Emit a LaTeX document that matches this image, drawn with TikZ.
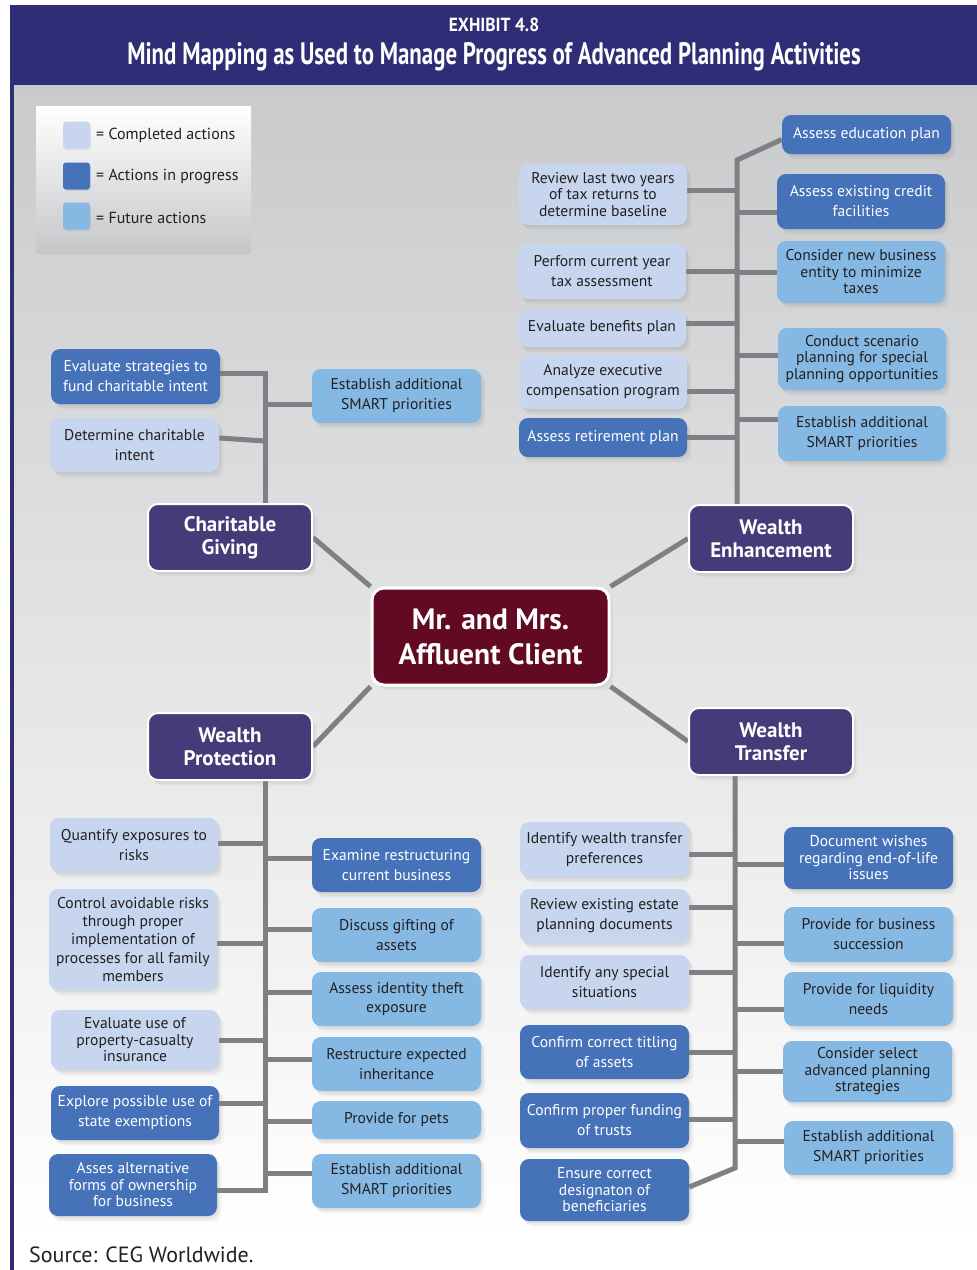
\documentclass[tikz,border=0pt]{standalone}
\usepackage{fontspec}
\setmainfont{PT Sans}
\usepackage{graphicx}
\usetikzlibrary{calc,shadows}

\definecolor{cDone}{HTML}{C7D5EE}
\definecolor{cProg}{HTML}{4672B9}
\definecolor{cFut}{HTML}{85B9E4}
\definecolor{cCat}{HTML}{453B79}
\definecolor{cMid}{HTML}{620A23}
\definecolor{cLine}{HTML}{7F8083}
\definecolor{cHead}{HTML}{2F2D76}
\definecolor{cInk}{HTML}{231F20}
\definecolor{cBgTop}{HTML}{C9CACC}
\definecolor{cBgMid}{HTML}{EFEFF0}
\definecolor{cLegBot}{HTML}{C6C7C9}

\pgfdeclarelayer{bg}
\pgfdeclarelayer{paper}
\pgfsetlayers{paper,bg,main}

\tikzset{
  soft/.style={
    drop shadow={shadow xshift=4.5pt, shadow yshift=-5.5pt, opacity=0.06},
    drop shadow={shadow xshift=3pt, shadow yshift=-4pt, opacity=0.08},
    drop shadow={shadow xshift=1.5pt, shadow yshift=-2pt, opacity=0.10}},
  item/.style={rounded corners=9pt, align=center, inner sep=2pt, soft,
    font=\fontsize{15.6}{16.5}\selectfont},
  loose/.style={font=\fontsize{15.6}{20}\selectfont},
  airy/.style={font=\fontsize{15.6}{18.3}\selectfont},
  done/.style={item, fill=cDone, text=cInk},
  prog/.style={item, fill=cProg, text=white},
  fut/.style={item, fill=cFut, text=cInk},
  sz/.style 2 args={minimum width=#1pt, minimum height=#2pt},
  cat/.style={rounded corners=10pt, fill=cCat, draw=white, line width=2pt,
    text=white, align=center, minimum width=164pt, minimum height=67pt, soft,
    font=\fontsize{21}{23}\selectfont\bfseries},
  hub/.style={rounded corners=12pt, fill=cMid, draw=white, line width=3pt,
    text=white, align=center, minimum width=237pt, minimum height=97pt, soft,
    font=\fontsize{29.5}{35}\selectfont\bfseries},
  conn/.style={draw=cLine, line width=5pt},
  swatch/.style={rounded corners=3pt, minimum size=27pt, inner sep=0pt,
    drop shadow={shadow xshift=1pt, shadow yshift=-1.5pt, opacity=0.15}},
  legtxt/.style={anchor=west, inner sep=0pt, text=cInk, font=\fontsize{16}{18}\selectfont},
}

% horizontal branch from a box side to a trunk
\newcommand\branchE[3]{\draw[conn] (#1.east) ++(0,#2) coordinate (tmp) -- (tmp -| #3);}
\newcommand\branchW[3]{\draw[conn] (#1.west) ++(0,#2) coordinate (tmp) -- (tmp -| #3);}

\begin{document}
\begin{tikzpicture}[x=1pt,y=-1pt]
\useasboundingbox (0,0) rectangle (977,1270);

\begin{pgfonlayer}{paper}
  \fill[white] (0,0) rectangle (977,1270);
  \shade[top color=cBgTop, middle color=cBgMid, bottom color=white] (13,85) rectangle (977,1240);
  \fill[cHead] (10,5) rectangle (977,85);
  \fill[cHead] (10,5) rectangle (13.5,1270);
  \shade[top color=white, bottom color=cLegBot] (36,106) rectangle (251,253);
\end{pgfonlayer}

% header
\node[text=white, font=\fontsize{19}{22}\selectfont\bfseries] (exh) at (494,25)
  {\scalebox{0.92}[1]{EXHIBIT 4.8}};
\node[text=white, font=\fontsize{31}{34}\selectfont\bfseries] (ttl) at (494,57)
  {\scalebox{0.738}[1]{Mind Mapping as Used to Manage Progress of Advanced Planning Activities}};

% legend
\node[swatch, fill=cDone] (sw1) at (76.5,135) {};
\node[swatch, fill=cProg] (sw2) at (76.5,176) {};
\node[swatch, fill=cFut]  (sw3) at (76.5,216) {};
\node[legtxt] (lt1) at (96,135) {= Completed actions};
\node[legtxt] (lt2) at (96,177) {= Actions in progress};
\node[legtxt] (lt3) at (96,218) {= Future actions};

% hub and categories
\node[hub] (mc) at (490.5,636.5) {Mr. and Mrs.\\Affluent Client};
\node[cat] (cg) at (230,537.5) {Charitable\\Giving};
\node[cat] (we) at (771,538.5) {Wealth\\Enhancement};
\node[cat] (wp) at (230,746.5) {Wealth\\Protection};
\node[cat] (wt) at (771,741.5) {Wealth\\Transfer};

% Wealth Enhancement
\node[done, sz={168}{61}] (rev)  at (603,194.5) {Review last two years\\of tax returns to\\determine baseline};
\node[done, loose, sz={168}{55}] (perf) at (602,271.5) {Perform current year\\tax assessment};
\node[done, sz={168}{38}] (evb)  at (602,328)   {Evaluate benefits plan};
\node[done, loose, sz={168}{54}] (ana)  at (603,382)   {Analyze executive\\compensation program};
\node[prog, sz={168}{39}] (ret)  at (603,437.5) {Assess retirement plan};
\node[prog, sz={169}{39}] (edu)  at (866.5,134.5) {Assess education plan};
\node[prog, loose, sz={168}{55}] (cred) at (861,201.5) {Assess existing credit\\facilities};
\node[fut,  sz={168}{62}] (cons) at (861,272)   {Consider new business\\entity to minimize\\taxes};
\node[fut,  sz={168}{62}] (cond) at (862,359)   {Conduct scenario\\planning for special\\planning opportunities};
\node[fut,  loose, sz={168}{55}] (esa)  at (862,433.5) {Establish additional\\SMART priorities};

% Charitable Giving
\node[prog, loose, sz={169}{55}] (evs) at (135.5,376.5) {Evaluate strategies to\\fund charitable intent};
\node[done, loose, sz={169}{54}] (det) at (134.5,445)   {Determine charitable\\intent};
\node[fut,  loose, sz={169}{54}] (esb) at (396.5,396)   {Establish additional\\SMART priorities};

% Wealth Protection
\node[done, loose, sz={168}{54}]  (qua) at (134,845)    {Quantify exposures to\\risks};
\node[done, airy, sz={168}{101}] (ctl) at (133,939.5)  {Control avoidable risks\\through proper\\implementation of\\processes for all family\\members};
\node[done, sz={168}{60}]  (evu) at (135,1040)   {Evaluate use of\\property-casualty\\insurance};
\node[prog, loose, sz={168}{54}]  (exs) at (135,1113)   {Explore possible use of\\state exemptions};
\node[prog, sz={168}{62}]  (alt) at (133,1185)   {Asses alternative\\forms of ownership\\for business};
\node[prog, loose, sz={169}{54}]  (exa) at (396.5,865)  {Examine restructuring\\current business};
\node[fut,  loose, sz={169}{54}]  (gif) at (396.5,935)  {Discuss gifting of\\assets};
\node[fut,  loose, sz={169}{54}]  (ide) at (396.5,999)  {Assess identity theft\\exposure};
\node[fut,  loose, sz={169}{54}]  (inh) at (396.5,1064) {Restructure expected\\inheritance};
\node[fut,  sz={169}{38}]  (pet) at (396.5,1120) {Provide for pets};
\node[fut,  loose, sz={169}{54}]  (esc) at (396.5,1181) {Establish additional\\SMART priorities};

% Wealth Transfer
\node[done, loose, sz={169}{55}] (iwt) at (604.5,849.5)  {Identify wealth transfer\\preferences};
\node[done, loose, sz={169}{54}] (red) at (604.5,916)    {Review existing estate\\planning documents};
\node[done, loose, sz={169}{54}] (spc) at (604.5,982)    {Identify any special\\situations};
\node[prog, loose, sz={169}{54}] (tit) at (604.5,1052)   {Confirm correct titling\\of assets};
\node[prog, loose, sz={169}{55}] (fun) at (604.5,1120.5) {Confirm proper funding\\of trusts};
\node[prog, sz={169}{62}] (ens) at (604.5,1190)   {Ensure correct\\designaton of\\beneficiaries};
\node[prog, sz={169}{62}] (doc) at (868.5,858)    {Document wishes\\regarding end-of-life\\issues};
\node[fut,  loose, sz={169}{55}] (bus) at (868.5,934.5)  {Provide for business\\succession};
\node[fut,  loose, sz={169}{54}] (liq) at (868.5,999)    {Provide for liquidity\\needs};
\node[fut,  sz={169}{61}] (sel) at (867.5,1071.5) {Consider select\\advanced planning\\strategies};
\node[fut,  loose, sz={169}{54}] (esd) at (868.5,1148)   {Establish additional\\SMART priorities};

% source line
\node[anchor=west, inner sep=0pt, text=cInk, font=\fontsize{22}{24}\selectfont] (src) at (29,1255) {Source: CEG Worldwide.};

\begin{pgfonlayer}{bg}
  % spokes from the hub
  \draw[conn] (mc.north west) -- (cg.east);
  \draw[conn] (mc.north east) -- (we.west);
  \draw[conn] (mc.south west) -- (wp.east);
  \draw[conn] (mc.south east) -- (wt.west);

  % Wealth Enhancement trunk
  \coordinate (weTop) at (737,160);
  \draw[conn] (edu.west) ++(0,5) -- (weTop) -- (weTop |- we.north);
  \branchE{rev}{-4.5}{weTop}
  \branchE{perf}{0}{weTop}
  \branchE{evb}{-5}{weTop}
  \branchE{ana}{9}{weTop}
  \branchE{ret}{0}{weTop}
  \branchW{cred}{10.5}{weTop}
  \branchW{cons}{0}{weTop}
  \branchW{cond}{-4}{weTop}
  \branchW{esa}{-14.5}{weTop}

  % Charitable Giving trunk
  \coordinate (cgTop) at (265,373);
  \draw[conn] (evs.east) ++(0,-3.5) -- (cgTop) -- (cgTop |- cg.north);
  \draw[conn] (det.east) ++(0,-7) -- ($(cgTop |- det.east)+(0,-4)$);
  \branchW{esb}{8}{cgTop}

  % Wealth Protection trunk
  \coordinate (wpBot) at (265,1190);
  \draw[conn] (wpBot |- wp.south) -- (wpBot) -- (wpBot -| alt.east);
  \branchE{qua}{-2}{wpBot}
  \branchE{ctl}{3.5}{wpBot}
  \branchE{evu}{0}{wpBot}
  \branchE{exs}{-10}{wpBot}
  \branchW{exa}{-7}{wpBot}
  \branchW{gif}{-6}{wpBot}
  \branchW{ide}{-7}{wpBot}
  \branchW{inh}{-5}{wpBot}
  \branchW{pet}{1}{wpBot}
  \branchW{esc}{-8}{wpBot}

  % Wealth Transfer trunk
  \coordinate (wtBot) at (735,1168);
  \draw[conn] (wtBot |- wt.south) -- (wtBot) -- ([yshift=3pt]ens.east);
  \branchE{iwt}{4.5}{wtBot}
  \branchE{red}{-9}{wtBot}
  \branchE{spc}{-10}{wtBot}
  \branchE{tit}{0}{wtBot}
  \branchE{fun}{-1.5}{wtBot}
  \branchW{doc}{6}{wtBot}
  \branchW{bus}{8.5}{wtBot}
  \branchW{liq}{10}{wtBot}
  \branchW{sel}{0}{wtBot}
  \branchW{esd}{-7}{wtBot}
\end{pgfonlayer}
\end{tikzpicture}
\end{document}
